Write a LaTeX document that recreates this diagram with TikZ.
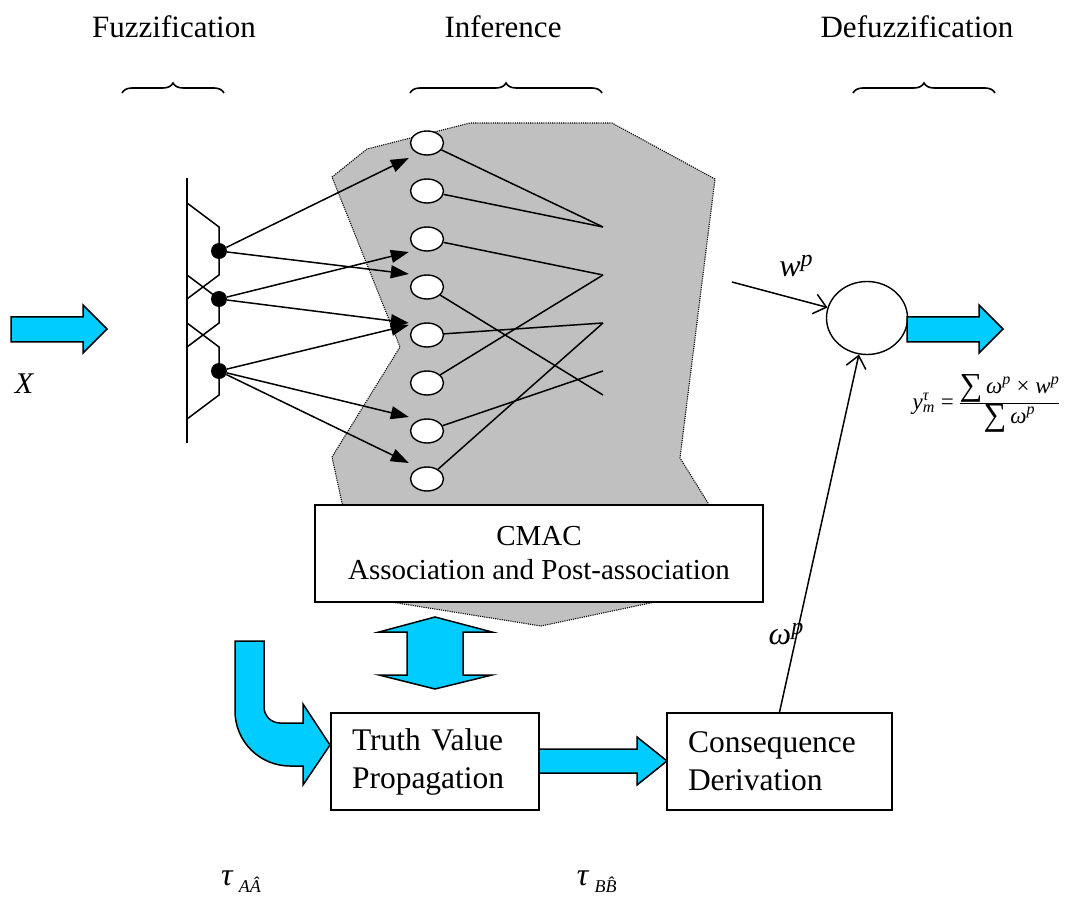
\documentclass[tikz,border=0pt]{standalone}
\usepackage{fontspec}
\setmainfont{Liberation Serif}
\usetikzlibrary{arrows.meta,calc,decorations.pathreplacing,shapes.geometric}
\definecolor{blockcyan}{RGB}{0,204,255}
\definecolor{cloudgray}{RGB}{192,192,192}
\tikzset{
	wire/.style={line width=1.5pt},
	unit/.style={draw,fill=white,ellipse,line width=1.4pt,minimum width=33pt,minimum height=24pt,inner sep=0pt},
	knot/.style={circle,fill=black,minimum size=16pt,inner sep=0pt},
	stagebox/.style={draw,fill=white,line width=1.6pt,minimum height=97pt,inner xsep=21pt,align=left,font=\fontsize{31.5}{38}\selectfont},
	blockarrow/.style={draw,fill=blockcyan,line width=1.5pt,line join=miter},
	title/.style={font=\fontsize{31}{38}\selectfont},
	overbrace/.style={line width=1.6pt,decorate,decoration={brace,amplitude=10pt}},
	openhead/.style={line width=1.5pt,-{Straight Barb[length=12pt,width=20pt]}},
	biglabel/.style={font=\fontsize{32}{36}\selectfont}
}
\newcommand\Sup[1]{\raisebox{10pt}{\fontsize{24}{28}\selectfont\textit{#1}}}
\newcommand\Sub[1]{\raisebox{-7pt}{\fontsize{18}{20}\selectfont\textit{#1}}}
\newcommand\Sm{\raisebox{-2pt}{\fontsize{32}{32}\selectfont ∑}\,}
\newcommand\Pw[1]{\textit{#1}\textsuperscript{\textit{p}}}

\begin{document}
\begin{tikzpicture}[x=1pt,y=-1pt]
		\useasboundingbox (0,0) rectangle (1072,909);
		
		% the gray inference region
		\path[fill=cloudgray,draw,line width=1.1pt,dash pattern=on 1.1pt off 1.1pt]
		(332,177) -- (367,149) -- (470,123) -- (612,123) -- (715,179) -- (680,458)
		-- (708,503) -- (655,602) -- (541,626) -- (391,602) -- (342,503) -- (332,457)
		-- (400,347) -- cycle;
		
		% we place the stage titles and their braces
		\node[title] (fuzz) at (174,27) {Fuzzification};
		\node[title] (infer) at (503,27) {Inference};
		\node[title] (defuzz) at (917,27) {Defuzzification};
		\foreach \lft/\rgt in {122/224,410/602,853/995}
		\draw[overbrace] (\lft,93) -- (\rgt,93);
		
		% we draw the fuzzy sets on the input axis
		\draw[wire] (187,178) -- (187,443);
		\draw[wire] (187,203) -- (219,227) -- (219,275) -- (187,299);
		\draw[wire] (187,275) -- (219,299) -- (219,323) -- (187,347);
		\draw[wire] (187,323) -- (219,347) -- (219,395) -- (187,419);
		\node[knot] (d1) at (219,251) {};
		\node[knot] (d2) at (219,299) {};
		\node[knot] (d3) at (219,371) {};
		
		% we draw the association cells
		\foreach \i in {1,...,8}
		\node[unit] (e\i) at (427,{95+48*\i}) {};
		
		% the points where the cells are combined
		\coordinate (p1) at (603,227);
		\coordinate (p2) at (603,275);
		\coordinate (p3) at (603,323);
		\coordinate (p4) at (603,371);
		\coordinate (p5) at (603,395);
		\foreach \cell/\pt in {e1/p1,e2/p1,e3/p2,e4/p5,e5/p3,e6/p2,e7/p4,e8/p3}
		\draw[wire] (\cell) -- (\pt);
		
		% we draw the arrows from the fuzzy sets to the cells
		\foreach \src/\cell/\dy in {d1/e1/15,d1/e4/-13,d2/e3/13,d2/e5/-12,d3/e5/-10,d3/e7/-14,d3/e8/-16}
		\draw[wire,-{Triangle[length=18pt,width=13pt]}] (\src) -- ($(\cell.west)+(-1,\dy)$);
		
		% the defuzzification node
		\node[draw,ellipse,line width=1.4pt,minimum width=81pt,minimum height=73pt,inner sep=0pt] (sum) at (867,318) {};
		\coordinate (wstart) at (732,282);
		\draw[openhead] (wstart) -- (sum);
		\node[biglabel] (wlab) at (796,266) {\textit{w}\Sup{p}};
		
		% we draw the boxes
		\node[stagebox,align=center,minimum width=448pt,font=\fontsize{29}{34}\selectfont] (cmac) at (539,553.5)
		{CMAC\\Association and Post-association};
		\node[stagebox,text width=166pt] (truth) at (435,761.5) {Truth Value\\Propagation};
		\node[stagebox,text width=183pt] (cons) at (779.5,761.5) {Consequence\\Derivation};
		\draw[openhead] (cons.north) -- (sum);
		\node[biglabel] (omlab) at (786,634) {\textit{ω}\Sup{p}};
		
		% we draw the block arrows
		\draw[blockarrow] (11,317) -- (83,317) -- (83,305) -- (107,329) -- (83,353) -- (83,342) -- (11,342) -- cycle;
		\draw[blockarrow] (907,317) -- (979,317) -- (979,305) -- (1003,329) -- (979,353) -- (979,342) -- (907,342) -- cycle;
		\draw[blockarrow] (435,617) -- (492,632) -- (463,632) -- (463,675) -- (492,675) -- (435,689)
		-- (379,675) -- (407,675) -- (407,632) -- (379,632) -- cycle;
		\draw[blockarrow] (235,641) -- (264,641) -- (264,707) arc[start angle=180,end angle=90,radius=16]
		-- (303,723) -- (303,704) -- (330,745) -- (303,785) -- (303,766) -- (290,766)
		arc[start angle=90,end angle=180,radius=55] -- cycle;
		\draw[blockarrow] (539,749) -- (637,749) -- (637,737) -- (667,761) -- (637,785) -- (637,773) -- (539,773) -- cycle;
		
		% we add the remaining labels
		\node[font=\fontsize{23}{27}\selectfont,inner sep=0pt] (yform) at (986,403) {
			\setlength\tabcolsep{1pt}\renewcommand\arraystretch{1.1}%
			\textit{y}\rlap{\textsuperscript{\textit{τ}}}\textsubscript{\textit{m}} =
			\begin{tabular}[c]{@{}c@{}}
				\Sm\Pw{ω} × \Pw{w}\\ \hline
				\Sm\Pw{ω}
			\end{tabular}};
		\node[font=\fontsize{30}{36}\selectfont\itshape] (xlab) at (24,384) {X};
		\node[biglabel] (tauA) at (241,882) {\textit{τ}\,\Sub{AÂ}};
		\node[biglabel] (tauB) at (600,882) {\textit{τ}\,\Sub{BB̂}};
	\end{tikzpicture}
\end{document}
